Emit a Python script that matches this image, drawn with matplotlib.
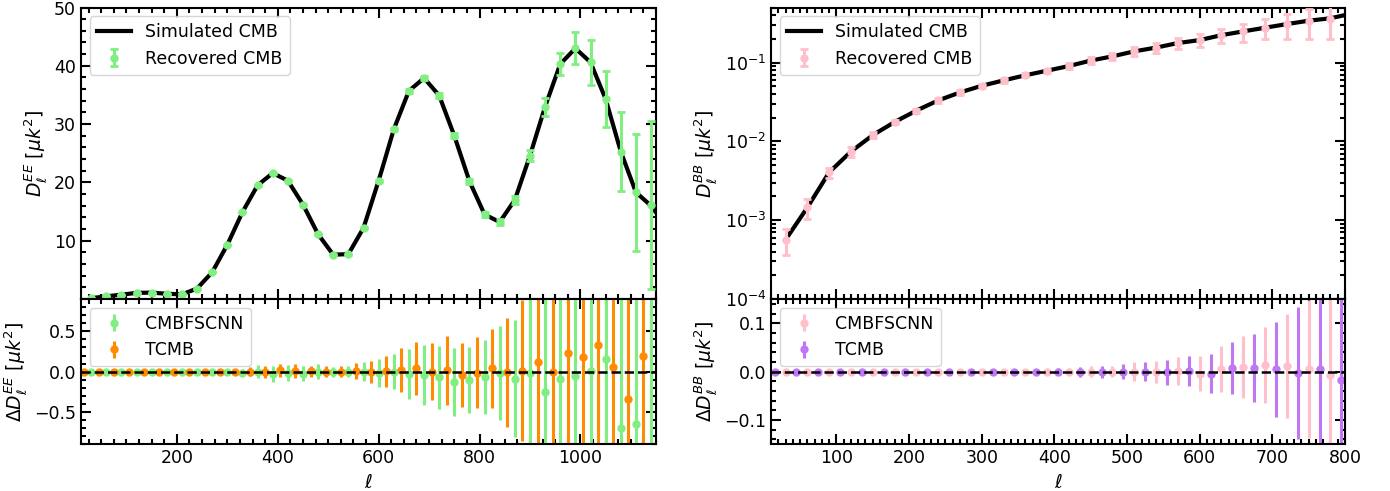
import numpy as np
import matplotlib
matplotlib.use('Agg')
import matplotlib.pyplot as plt
from matplotlib.ticker import MultipleLocator

# ---------------- EE data ----------------
ell_ee = [30, 60, 90, 120, 150, 180, 210, 240, 270, 300, 330, 360, 390, 420, 450,
          480, 510, 540, 570, 600, 630, 660, 690, 720, 750, 780, 810, 840, 870, 900,
          930, 960, 990, 1020, 1050, 1080, 1110, 1140]
ell_ee_sim = ell_ee + [1170]
ee_sim = [0.15, 0.45, 0.75, 1.05, 1.1, 0.9, 0.8, 1.8, 4.6, 9.3, 14.9, 19.5, 21.6, 20.3, 16.2,
          11.1, 7.6, 7.7, 12.2, 20.3, 29.1, 35.7, 37.9, 34.9, 28.0, 20.2, 14.5, 13.2, 17.0, 24.6,
          33.0, 40.3, 43.0, 40.6, 34.3, 25.3, 18.3, 16.0, 12.5]
ee_rec = [0.15, 0.45, 0.75, 1.05, 1.1, 0.9, 0.8, 1.8, 4.6, 9.3, 14.9, 19.5, 21.6, 20.3, 16.2,
          11.1, 7.6, 7.7, 12.2, 20.3, 29.1, 35.7, 37.9, 34.9, 28.0, 20.2, 14.5, 13.2, 17.0, 24.6,
          33.0, 40.3, 43.0, 40.6, 34.3, 25.3, 18.3, 16.1]
ee_err = [0.005, 0.005, 0.006, 0.007, 0.008, 0.01, 0.012, 0.015, 0.02, 0.03, 0.04, 0.078,
          0.099, 0.097, 0.095, 0.093, 0.06, 0.07, 0.117, 0.175, 0.22, 0.31, 0.37, 0.39, 0.426,
          0.41, 0.457, 0.586, 0.724, 1.0, 1.54, 1.9, 2.74, 3.86, 4.86, 6.7, 10.0, 14.4]
ee_res_cnn = [0, 0, 0, 0, 0, 0, 0, 0, 0, 0, -0.012, 0, -0.033, -0.02, -0.025,
              0, 0, 0, 0, -0.012, 0, -0.025, -0.04, -0.07, -0.128, -0.1, -0.066, -0.016, -0.086, -0.016,
              -0.247, -0.086, -0.058, 0.004, 0.16, -0.70, -0.65, -1.1]

ell_ee_t = [15, 45, 75, 105, 135, 165, 195, 225, 255, 285, 315, 345, 375, 405, 435,
            465, 495, 525, 555, 585, 615, 645, 675, 705, 735, 765, 795, 825, 855, 885,
            915, 945, 975, 1005, 1035, 1065, 1095, 1125]
ee_res_t = [0, 0, 0, 0, 0, 0, 0, 0, 0, 0, 0, 0, -0.008, 0.016, 0.008,
            0.004, 0, 0, 0.008, -0.004, 0.004, 0.016, 0.04, 0, 0.016, -0.04, -0.016, 0.04, -0.008, 0.012,
            0.123, 0, 0.226, 0.185, 0.325, 0.053, -0.342, 0.198]
ee_err_t = [0.005, 0.005, 0.006, 0.007, 0.008, 0.01, 0.012, 0.015, 0.02, 0.025, 0.03, 0.053,
            0.076, 0.082, 0.086, 0.07, 0.066, 0.066, 0.095, 0.14, 0.189, 0.274, 0.33, 0.354, 0.424,
            0.40, 0.44, 0.492, 0.677, 0.87, 1.1, 1.3, 1.6, 2.0, 2.4, 3.0, 4.0, 5.5]

# ---------------- BB data ----------------
ell_bb = [30, 60, 90, 120, 150, 180, 210, 240, 270, 300, 330, 360, 390,
          420, 450, 480, 510, 540, 570, 600, 630, 660, 690, 720, 750, 780]
ell_bb_sim = ell_bb + [810]
bb_sim = [5.65e-4, 1.45e-3, 4.05e-3, 7.43e-3, 1.2e-2, 1.76e-2, 2.46e-2, 3.31e-2, 4.18e-2,
          5.08e-2, 5.94e-2, 6.9e-2, 7.9e-2, 9.05e-2, 0.106, 0.12, 0.139, 0.155, 0.177,
          0.193, 0.223, 0.249, 0.277, 0.308, 0.34, 0.365, 0.42]
bb_rec = [5.65e-4, 1.45e-3, 4.05e-3, 7.43e-3, 1.2e-2, 1.76e-2, 2.46e-2, 3.31e-2, 4.18e-2,
          5.08e-2, 5.94e-2, 6.9e-2, 7.9e-2, 9.05e-2, 0.106, 0.12, 0.139, 0.155, 0.177,
          0.193, 0.223, 0.249, 0.277, 0.308, 0.34, 0.357]
bb_err = [2e-4, 4e-4, 6e-4, 1e-3, 1e-3, 1.2e-3, 1.5e-3, 2e-3, 2.5e-3, 3e-3, 3.5e-3, 4e-3,
          5e-3, 7.5e-3, 0.011, 0.012, 0.019, 0.023, 0.028, 0.036, 0.047, 0.064, 0.079,
          0.107, 0.143, 0.16]
bb_res_cnn = [0, 0, 0, 0, 0, 0, 0, 0, 0, 0, 0, 0, 0,
              0, 0, 0, 0, 0, 0.0014, -0.004, 0.0054, 0.0088, 0.0136, 0.0116, 0.006, -0.006]

ell_bb_t = [15, 45, 75, 105, 135, 165, 195, 225, 255, 285, 315, 345, 375, 405,
            435, 465, 495, 525, 555, 585, 615, 645, 675, 705, 735, 765, 795]
bb_res_t = [0, 0, 0, 0, 0, 0, 0, 0, 0, 0, 0, 0, 0, 0,
            0, 0, 0, 0, -0.0014, 0.0014, -0.004, 0.0075, 0.0068, 0.0048, -0.003, 0.005, -0.017]
bb_err_t = [1e-4, 2e-4, 4e-4, 6e-4, 8e-4, 1e-3, 1.2e-3, 1.5e-3, 1.8e-3, 2e-3, 2.5e-3, 3e-3,
            4e-3, 6.8e-3, 0.01, 0.0126, 0.0156, 0.02, 0.0255, 0.031, 0.041, 0.054, 0.07,
            0.098, 0.137, 0.18, 0.25]

green = '#80EE80'
orange = 'darkorange'
pink = 'pink'
purple = '#BF77F6'

plt.rcParams['font.size'] = 12
plt.rcParams['mathtext.fontset'] = 'dejavusans'


def style(ax):
    ax.tick_params(which='both', direction='in', top=True, right=True, labelsize=12.5)
    ax.tick_params(which='major', length=7.5, width=1.5)
    ax.tick_params(which='minor', length=3.7, width=1.5)
    for s in ax.spines.values():
        s.set_linewidth(1.5)


fig = plt.figure(figsize=(13.9, 4.91), dpi=100)
ax1 = fig.add_axes([0.0583, 0.391, 0.4137, 0.5937])
ax2 = fig.add_axes([0.0583, 0.0951, 0.4137, 0.2959], sharex=ax1)
ax3 = fig.add_axes([0.5547, 0.391, 0.4129, 0.5937])
ax4 = fig.add_axes([0.5547, 0.0951, 0.4129, 0.2959], sharex=ax3)

# EE top
ax1.plot(ell_ee_sim, ee_sim, color='k', lw=3, label='Simulated CMB', zorder=2)
ax1.errorbar(ell_ee, ee_rec, yerr=ee_err, fmt='o', color=green, ms=5, elinewidth=2.2,
             capsize=3, capthick=2, label='Recovered CMB', zorder=3)
ax1.set_ylim(0, 50)
ax1.set_yticks([10, 20, 30, 40, 50])
ax1.yaxis.set_minor_locator(MultipleLocator(2))
ax1.set_ylabel(r'$D_{\ell}^{EE}\ [\mu k^2]$', fontsize=13.5)
ax1.legend(loc='upper left', fontsize=12.5)
plt.setp(ax1.get_xticklabels(), visible=False)
style(ax1)

# EE bottom
ax2.errorbar(ell_ee, ee_res_cnn, yerr=ee_err, fmt='o', color=green, ms=5, elinewidth=2.2,
             label='CMBFSCNN')
ax2.errorbar(ell_ee_t, ee_res_t, yerr=ee_err_t, fmt='o', color=orange, ms=5, elinewidth=2.2,
             label='TCMB')
ax2.axhline(0, color='k', ls='--', lw=1.8, zorder=5)
ax2.set_xlim(10, 1150)
ax2.set_ylim(-0.9, 0.9)
ax2.xaxis.set_major_locator(MultipleLocator(200))
ax2.xaxis.set_minor_locator(MultipleLocator(25))
ax2.yaxis.set_major_locator(MultipleLocator(0.5))
ax2.yaxis.set_minor_locator(MultipleLocator(0.1))
ax2.set_xlabel(r'$\ell$', fontsize=13.5)
ax2.set_ylabel(r'$\Delta D_{\ell}^{EE}\ [\mu k^2]$', fontsize=13.5)
ax2.legend(loc='upper left', fontsize=12.5)
style(ax2)

# BB top
ax3.plot(ell_bb_sim, bb_sim, color='k', lw=3, label='Simulated CMB', zorder=2)
ax3.errorbar(ell_bb, bb_rec, yerr=bb_err, fmt='o', color=pink, ms=5, elinewidth=2.2,
             capsize=3, capthick=2, label='Recovered CMB', zorder=3)
ax3.set_yscale('log')
ax3.set_ylim(1e-4, 0.5)
ax3.set_ylabel(r'$D_{\ell}^{BB}\ [\mu k^2]$', fontsize=13.5)
ax3.legend(loc='upper left', fontsize=12.5)
plt.setp(ax3.get_xticklabels(), visible=False)
style(ax3)

# BB bottom
ax4.errorbar(ell_bb, bb_res_cnn, yerr=bb_err, fmt='o', color=pink, ms=5, elinewidth=2.2,
             label='CMBFSCNN')
ax4.errorbar(ell_bb_t, bb_res_t, yerr=bb_err_t, fmt='o', color=purple, ms=5, elinewidth=2.2,
             label='TCMB')
ax4.axhline(0, color='k', ls='--', lw=1.8, zorder=5)
ax4.set_xlim(10, 800)
ax4.set_ylim(-0.15, 0.15)
ax4.xaxis.set_major_locator(MultipleLocator(100))
ax4.xaxis.set_minor_locator(MultipleLocator(10))
ax4.yaxis.set_major_locator(MultipleLocator(0.1))
ax4.yaxis.set_minor_locator(MultipleLocator(0.02))
ax4.set_xlabel(r'$\ell$', fontsize=13.5)
ax4.set_ylabel(r'$\Delta D_{\ell}^{BB}\ [\mu k^2]$', fontsize=13.5)
ax4.legend(loc='upper left', fontsize=12.5)
style(ax4)

fig.savefig('out.png', dpi=100)
